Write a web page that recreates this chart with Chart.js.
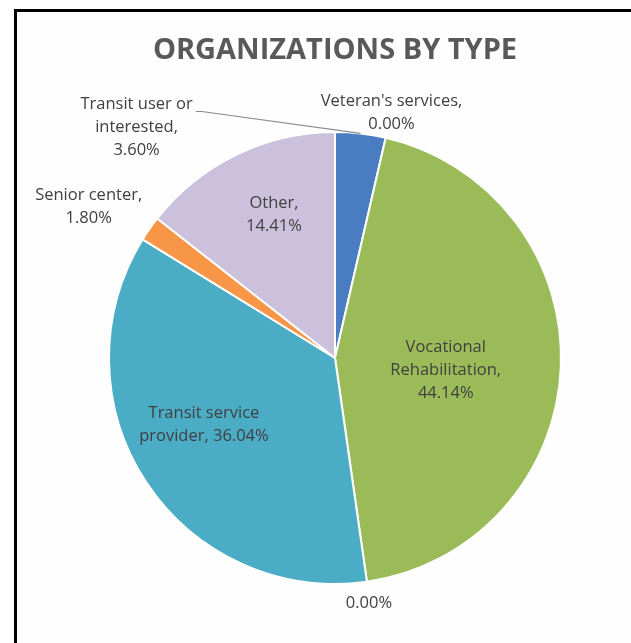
<!DOCTYPE html>
<html>
<head>
<meta charset="utf-8">
<script src="https://cdn.jsdelivr.net/npm/chart.js@4.4.1/dist/chart.umd.min.js"></script>
<style>
  body { margin: 0; overflow: hidden; background: #fff; }
  #marco {
    position: absolute; left: 14px; top: 9px;
    width: 700px; height: 700px;
    border: 3px solid #000; background: #fefefe;
  }
  #lienzo { position: absolute; left: 0; top: 0; }
</style>
</head>
<body>
<div id="marco"></div>
<canvas id="lienzo" width="631" height="643"></canvas>
<script>
// Datos del gráfico
const TITULO = 'ORGANIZATIONS BY TYPE';
const categorias = ['Transit user or interested', "Veteran's services", 'Vocational Rehabilitation', '', 'Transit service provider', 'Senior center', 'Other'];
const porcentajes = [3.60, 0.00, 44.14, 0.00, 36.04, 1.80, 14.41];
const colores = ['#4A7CC1', '#4A7CC1', '#9BBB59', '#4BACC6', '#4BACC6', '#F79646', '#CBC1DC'];

// Líneas de texto de cada etiqueta
const etiquetas = [
    ['Transit user or', 'interested,', '3.60%'],
    ["Veteran's services,", '0.00%'],
    ['Vocational', 'Rehabilitation,', '44.14%'],
    ['0.00%'],
    ['Transit service', 'provider, 36.04%'],
    ['Senior center,', '1.80%'],
    ['Other,', '14.41%']
];
// posición de cada etiqueta respecto al centro, en radios (x, y)
const posEtiquetas = [
    [-0.878, -1.02],
    [0.25, -1.085],
    [0.49, 0.055],
    [0.15, 1.085],
    [-0.58, 0.295],
    [-1.09, -0.67],
    [-0.27, -0.634]
];
const conLinea = [true, false, false, false, false, false, false];

const etiquetasPlugin = {
    id: 'etiquetas',
    afterDraw(chart) {
        const ctx = chart.ctx;
        const meta = chart.getDatasetMeta(0);
        const arco0 = meta.data[0];
        const cx = arco0.x, cy = arco0.y, r = arco0.outerRadius;

        // Título
        ctx.save();
        ctx.fillStyle = '#595959';
        ctx.font = 'bold 29px "Open Sans"';
        ctx.textAlign = 'center';
        ctx.textBaseline = 'middle';
        ctx.fillText(TITULO, 335, 51);

        ctx.font = '16.5px "Open Sans"';
        const alto = 23;
        etiquetas.forEach((lineas, i) => {
            const lx = cx + posEtiquetas[i][0] * r;
            const ly = cy + posEtiquetas[i][1] * r;
            const y0 = ly - (lineas.length - 1) * alto / 2;
            ctx.fillStyle = '#404040';
            lineas.forEach((t, k) => ctx.fillText(t, lx, y0 + k * alto));

            if (conLinea[i]) {
                // línea guía desde la etiqueta hasta el borde del sector
                const arco = meta.data[i];
                const medio = (arco.startAngle + arco.endAngle) / 2;
                const ex = cx + Math.cos(medio) * r;
                const ey = cy + Math.sin(medio) * r;
                const sx = lx + ctx.measureText(lineas[0]).width / 2 + 3;
                const sy = y0 + 7;
                ctx.strokeStyle = '#8c8c8c';
                ctx.lineWidth = 1.2;
                ctx.beginPath();
                ctx.moveTo(sx, sy);
                ctx.lineTo(sx + 6, sy);
                ctx.lineTo(ex, ey);
                ctx.stroke();
            }
        });
        ctx.restore();
    }
};

new Chart(document.getElementById('lienzo'), {
    type: 'pie',
    data: {
        labels: categorias,
        datasets: [{
            data: porcentajes,
            backgroundColor: colores,
            borderColor: '#ffffff',
            borderWidth: 2
        }]
    },
    options: {
        responsive: false,
        animation: false,
        layout: { padding: { top: 131, bottom: 58, left: 108, right: 69 } },
        plugins: {
            legend: { display: false },
            title: { display: false },
            tooltip: { enabled: false }
        }
    },
    plugins: [etiquetasPlugin]
});
</script>
</body>
</html>
